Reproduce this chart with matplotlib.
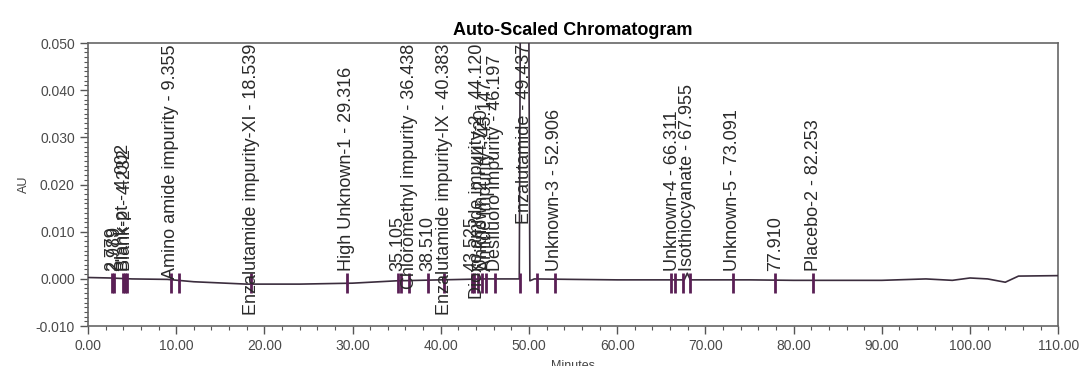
import matplotlib.pyplot as plt
from matplotlib.ticker import MultipleLocator, FormatStrFormatter

plt.rcParams['font.family'] = ['Liberation Sans', 'DejaVu Sans']
plt.rcParams['axes.unicode_minus'] = False

# trace (minutes, AU)
trace_time = [0.0, 2.5, 5.0, 9.0, 12.0, 18.0, 24.0, 30.0, 35.0, 40.0, 45.0, 48.9,
              49.05, 49.95, 50.1, 50.6, 55.0, 60.0, 66.0, 67.6, 67.95, 68.3, 75.0,
              80.0, 90.0, 95.0, 98.0, 100.0, 102.0, 104.0, 105.5, 110.0]
trace_au = [0.0003, 0.0002, 0.0, -0.0001, -0.0006, -0.0011, -0.0011, -0.0009, -0.0004,
            -0.0002, 0.0, 0.0, 0.07, 0.07, -0.0004, 0.0, -0.0001, -0.0002, -0.0002,
            -0.0002, 0.0012, -0.0002, -0.0002, -0.0003, -0.0003, 0.0, -0.0003, 0.0002,
            0.0, -0.0007, 0.0006, 0.0007]

# integration marks (peak start / end ticks)
mark_time = [2.78, 2.99, 3.95, 4.2, 4.4, 9.36, 10.3, 18.54, 29.32, 35.1, 35.5, 36.44,
             38.51, 40.38, 43.5, 43.8, 44.2, 44.72, 45.15, 46.2, 48.95, 50.9, 52.9,
             66.1, 66.5, 67.5, 68.2, 73.1, 77.9, 82.25]

peak_rt = [2.779, 2.989, 4.002, 4.232, 9.355, 18.539, 29.316, 35.105, 36.438, 38.510,
           40.383, 43.525, 44.120, 44.720, 45.147, 46.197, 49.437, 52.906, 66.311,
           67.955, 73.091, 77.910, 82.253]
peak_name = ['', '', 'Blank-pt', 'Blank-2', 'Amino amide impurity',
             'Enzalutamide impurity-XI', 'High Unknown-1', '', 'Chloromethyl impurity',
             '', 'Enzalutamide impurity-IX', '', 'Dioxo amide impurity-2', 'Unknown-2',
             'Amide impurity', 'Desfluoro impurity', 'Enzalutamide', 'Unknown-3',
             'Unknown-4', 'Isothiocyanate', 'Unknown-5', '', 'Placebo-2']

fig, ax = plt.subplots(figsize=(10.82, 3.66), dpi=100)
fig.subplots_adjust(left=0.0813, right=0.978, bottom=0.109, top=0.8825)

ax.plot(trace_time, trace_au, color='#3b2d3d', lw=1.2, zorder=3)
ax.plot(mark_time, [-0.0009] * len(mark_time), ls='none', marker='|', ms=15,
        mew=2.0, color='#5a1f55', zorder=4)

ax.set_xlim(0, 110)
ax.set_ylim(-0.010, 0.050)
ax.xaxis.set_major_locator(MultipleLocator(10))
ax.xaxis.set_minor_locator(MultipleLocator(2))
ax.yaxis.set_major_locator(MultipleLocator(0.01))
ax.yaxis.set_minor_locator(MultipleLocator(0.001))
ax.xaxis.set_major_formatter(FormatStrFormatter('%.2f'))
ax.yaxis.set_major_formatter(FormatStrFormatter('%.3f'))
ax.tick_params(which='major', direction='out', length=6, width=1.0, color='#555555',
               labelsize=10, labelcolor='#4a4a4a')
ax.tick_params(which='minor', direction='out', length=3, width=0.8, color='#555555')
for s in ax.spines.values():
    s.set_color('#666666')
    s.set_linewidth(1.2)

ax.set_title('Auto-Scaled Chromatogram', fontsize=13, fontweight='bold', pad=6)
ax.set_ylabel('AU', fontsize=9, color='#444444', labelpad=4)
ax.set_xlabel('Minutes', fontsize=9, color='#444444', labelpad=5)

# peak labels: start just above the baseline, pushed down if they would run past the top
texts = []
for rt, name in zip(peak_rt, peak_name):
    lab = f'{name} - {rt:.3f}' if name else f'{rt:.3f}'
    t = ax.text(rt, 0.0017, lab, rotation=90, ha='center', va='bottom',
                fontsize=13, color='#2a2a2a', zorder=5)
    texts.append(t)

fig.canvas.draw()
rend = fig.canvas.get_renderer()
ax_top = ax.get_window_extent().y1 - 1
inv = ax.transData.inverted()
for t, rt in zip(texts, peak_rt):
    bb = t.get_window_extent(rend)
    if bb.y1 > ax_top or 49 < rt < 50:
        y0 = inv.transform((0, ax_top - bb.height))[1]
        t.set_y(y0)

plt.savefig('out.png', dpi=100)
